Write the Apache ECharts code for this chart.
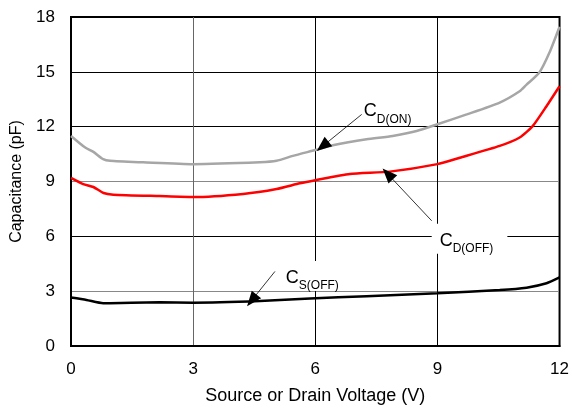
<!DOCTYPE html>
<html>
<head>
<meta charset="utf-8">
<style>
  html, body { margin: 0; padding: 0; background: #fff; }
  #main { width: 572px; height: 410px; }
</style>
<script src="https://cdn.jsdelivr.net/npm/echarts@6/dist/echarts.min.js"></script>
</head>
<body>
<div id="main"></div>
<script>
// values
const xTicks = [0, 3, 6, 9, 12];
const yTicks = [0, 3, 6, 9, 12, 15, 18];

const dOnV = [0, 0.34, 0.55, 0.79, 0.96, 1.77, 3, 4.64, 5.05, 5.45, 6.0, 6.43, 7.26, 7.9, 8.49, 9.0, 9.72, 10.53, 11.02, 11.19, 11.5, 11.75, 12];
const dOnC = [11.49, 10.87, 10.62, 10.22, 10.13, 10.05, 9.95, 10.05, 10.13, 10.4, 10.72, 10.98, 11.31, 11.49, 11.76, 12.13, 12.67, 13.32, 13.94, 14.3, 14.95, 16.04, 17.47];

const dOffV = [0, 0.3, 0.55, 0.8, 1.04, 2.18, 3, 4.23, 5.05, 5.62, 6.0, 6.85, 7.83, 9.0, 9.55, 10.53, 11.02, 11.34, 11.68, 12];
const dOffC = [9.2, 8.86, 8.7, 8.37, 8.28, 8.2, 8.15, 8.32, 8.59, 8.9, 9.07, 9.41, 9.54, 9.95, 10.3, 10.95, 11.41, 12.03, 13.12, 14.21];

const sOffV = [0, 0.38, 0.79, 2.18, 3, 4.64, 5.87, 7.26, 9.0, 10.53, 11.19, 11.68, 12];
const sOffC = [2.65, 2.52, 2.34, 2.39, 2.37, 2.46, 2.6, 2.72, 2.88, 3.06, 3.19, 3.43, 3.75];

// annotations: subscript, label anchor, arrow tail, arrow tip (data coords)
const notes = [
  {sub: 'D(ON)', at: [7.19, 12.89], from: [7.14, 12.67], to: [6.18, 10.93], bg: false},
  {sub: 'D(OFF)', at: [8.86, 5.87], from: [8.86, 6.85], to: [7.78, 9.41], bg: true},
  {sub: 'S(OFF)', at: [5.08, 3.83], from: [5.01, 4.08], to: [4.44, 2.5], bg: true}
];

const pairs = (xs, ys) => xs.map((x, i) => [x, ys[i]]);
const font = '"Liberation Sans", Arial, sans-serif';

const chart = echarts.init(document.getElementById('main'));

chart.setOption({
  animation: false,
  grid: {
    left: 71, right: 12, top: 17, bottom: 62,
    show: true, borderColor: '#000', borderWidth: 2
  },
  xAxis: {
    type: 'value', min: 0, max: 12, interval: 3,
    name: 'Source or Drain Voltage (V)',
    nameLocation: 'middle', nameGap: 41,
    nameTextStyle: {fontFamily: font, fontSize: 18, color: '#000'},
    axisLine: {lineStyle: {color: '#000', width: 2}},
    axisTick: {show: false},
    axisLabel: {fontFamily: font, fontSize: 17, color: '#000', margin: 15,
      formatter: v => xTicks.includes(v) ? String(v) : ''},
    splitLine: {lineStyle: {color: ['#000', '#666', '#000', '#000', '#000'], width: 1}}
  },
  yAxis: {
    type: 'value', min: 0, max: 18, interval: 3,
    name: 'Capacitance (pF)',
    nameLocation: 'middle', nameGap: 46,
    nameTextStyle: {fontFamily: font, fontSize: 16, color: '#000'},
    axisLine: {show: true, lineStyle: {color: '#000', width: 2}},
    axisTick: {show: false},
    axisLabel: {fontFamily: font, fontSize: 17, color: '#000', margin: 16,
      formatter: v => yTicks.includes(v) ? String(v) : ''},
    splitLine: {lineStyle: {color: ['#000', '#888', '#000', '#888', '#000', '#000', '#000'], width: 1}}
  },
  series: [
    {
      name: 'CD(ON)', type: 'line', data: pairs(dOnV, dOnC),
      smooth: 0.2, showSymbol: false,
      lineStyle: {color: '#a6a6a6', width: 2.5}
    },
    {
      name: 'CD(OFF)', type: 'line', data: pairs(dOffV, dOffC),
      smooth: 0.2, showSymbol: false,
      lineStyle: {color: '#ff0000', width: 2.5}
    },
    {
      name: 'CS(OFF)', type: 'line', data: pairs(sOffV, sOffC),
      smooth: 0.2, showSymbol: false,
      lineStyle: {color: '#000', width: 2.5},
      markLine: {
        silent: true,
        symbol: ['none', 'triangle'],
        symbolSize: [12, 15],
        label: {show: false},
        lineStyle: {color: '#000', width: 0.8, type: 'solid'},
        data: notes.map(n => [{coord: n.from}, {coord: n.to}])
      }
    }
  ]
});

// labels placed through the chart's own scales
chart.setOption({
  graphic: notes.map(n => {
    const p = chart.convertToPixel({gridIndex: 0}, n.at);
    return {
      type: 'text', x: p[0], y: p[1], z: 50,
      style: {
        text: '{c|C}{s|' + n.sub + '}',
        verticalAlign: 'middle',
        backgroundColor: n.bg ? '#fff' : 'transparent',
        padding: n.bg ? [6, 14, 4, 8] : 0,
        rich: {
          c: {fontFamily: font, fontSize: 18, color: '#000', lineHeight: 20, verticalAlign: 'bottom'},
          s: {fontFamily: font, fontSize: 12, color: '#000', lineHeight: 12, verticalAlign: 'bottom', padding: [0, 0, -5, 0]}
        }
      }
    };
  })
});
</script>
</body>
</html>
